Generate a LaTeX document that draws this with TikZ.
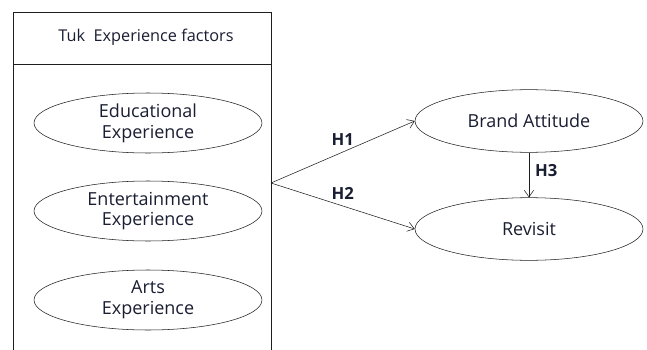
\documentclass[tikz,border=0pt]{standalone}
\usepackage{fontspec}
\setmainfont{Open Sans}
\usepackage{tikz}
\usetikzlibrary{shapes.geometric, arrows.meta, positioning}
\definecolor{inkblack}{RGB}{30, 30, 30}
\definecolor{textnavy}{RGB}{25, 30, 50}

\begin{document}
\begin{tikzpicture}[
    x=0.75pt, y=-0.75pt,
    factor/.style={ellipse, draw=inkblack, thin, minimum width=171pt, minimum height=45pt, inner sep=0pt, align=center, font=\fontsize{13.5}{15.5}\selectfont, text=textnavy},
    outcome/.style={ellipse, draw=inkblack, thin, minimum width=171pt, minimum height=47pt, inner sep=0pt, align=center, font=\fontsize{13.5}{15.5}\selectfont, text=textnavy},
    hyp/.style={font=\bfseries\fontsize{12.5}{14}\selectfont, text=textnavy},
    line/.style={draw, -{Straight Barb[length=5pt, width=7pt]}, inkblack, thin}
  ]
    \useasboundingbox (0,0) rectangle (647,350);
    \fill[white] (0,0) rectangle (647,350);

    % frame holding the experience factors
    \draw[inkblack, thin] (13,350) -- (13,12) -- (271,12) -- (271,350);
    \draw[inkblack, thin] (13,64) -- (271,64);
    \node (hdr) [font=\fontsize{12.2}{14}\selectfont, text=textnavy] at (146,37) {Tuk\ \ Experience factors};

    \node (edu) [factor] at (148,123) {Educational\\Experience};
    \node (ent) [factor] at (148,211) {Entertainment\\Experience};
    \node (art) [factor] at (148,300) {Arts\\Experience};

    \node (brand) [outcome] at (529,121) {Brand Attitude};
    \node (rev) [outcome] at (529,229) {Revisit};

    \coordinate (src) at (271,183);

    \draw[line] (src) -- (brand.west) node[hyp, pos=0.5, above=1pt] {H1};
    \draw[line] (src) -- (rev.west) node[hyp, pos=0.5, above=1pt] {H2};
    \draw[line] (brand) -- (rev) node[hyp, pos=0.4, right=1pt] {H3};
  \end{tikzpicture}
\end{document}
